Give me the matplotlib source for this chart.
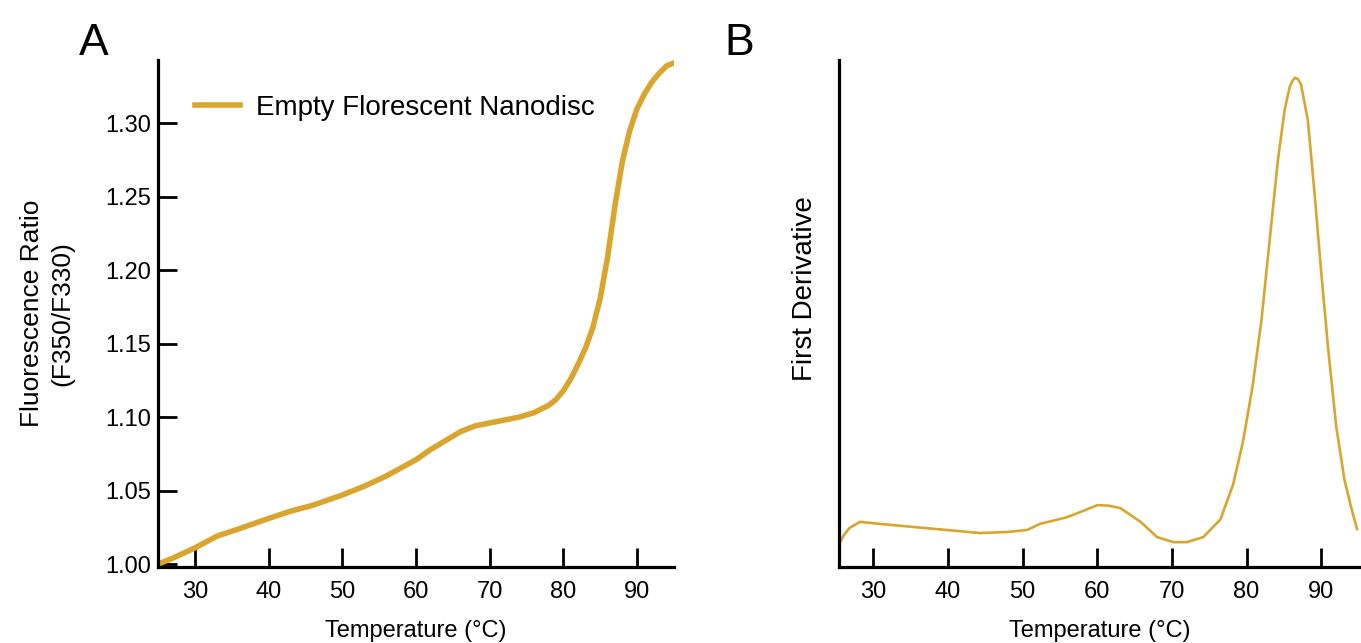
import numpy as np
import matplotlib
matplotlib.use("Agg")
import matplotlib.pyplot as plt

plt.rcParams['font.family'] = ['Liberation Sans', 'DejaVu Sans']

# panel A: fluorescence ratio vs temperature
temp_a = [25, 27, 30, 33, 36, 40, 43, 46, 50, 53, 56, 60, 62, 64, 66, 68, 70,
          72, 74, 76, 78, 79, 80, 81, 82, 83, 84, 85, 86, 87, 88, 89, 90, 91,
          92, 93, 94, 95]
ratio_a = [1.000, 1.004, 1.011, 1.019, 1.024, 1.031, 1.036, 1.040, 1.047,
           1.053, 1.060, 1.071, 1.078, 1.084, 1.090, 1.094, 1.096, 1.098,
           1.100, 1.103, 1.108, 1.112, 1.118, 1.126, 1.136, 1.147, 1.161,
           1.181, 1.209, 1.244, 1.274, 1.295, 1.310, 1.320, 1.328, 1.334,
           1.339, 1.341]

# panel B: first derivative (arbitrary units)
temp_b = [25.4, 26, 26.8, 28.2, 30.9, 35.3, 39.8, 44.3, 47.9, 50.6, 52.3,
          55.9, 58, 60, 61.5, 63.1, 65.8, 68, 70.2, 72, 74.2, 76.5, 78.2,
          79.5, 80.8, 82, 83.1, 84.2, 85.1, 85.8, 86.2, 86.5, 86.9, 87.3,
          88.2, 89.1, 90, 90.9, 92, 93.1, 94, 94.8]
deriv_b = [0.045, 0.062, 0.077, 0.089, 0.085, 0.079, 0.073, 0.067, 0.069,
           0.073, 0.085, 0.098, 0.110, 0.122, 0.121, 0.116, 0.089, 0.059,
           0.049, 0.049, 0.059, 0.094, 0.163, 0.246, 0.356, 0.488, 0.646,
           0.803, 0.902, 0.948, 0.960, 0.965, 0.962, 0.951, 0.882, 0.738,
           0.581, 0.435, 0.278, 0.173, 0.118, 0.075]

xticks = [30, 40, 50, 60, 70, 80, 90]
yticks_a = [1.00, 1.05, 1.10, 1.15, 1.20, 1.25, 1.30]
color = '#D9A52E'

fig = plt.figure(figsize=(13.61, 6.43), dpi=100)
ax1 = fig.add_axes([0.1161, 0.1182, 0.3791, 0.7885])
ax2 = fig.add_axes([0.6165, 0.1182, 0.3828, 0.7885])

ax1.plot(temp_a, ratio_a, color=color, lw=4, label='Empty Florescent Nanodisc')
ax1.set_xlim(25, 95)
ax1.set_ylim(0.998, 1.343)
ax1.set_xticks(xticks)
ax1.set_yticks(yticks_a)
ax1.set_yticklabels(['%.2f' % v for v in yticks_a])
ax1.set_xlabel('Temperature (°C)', size=17, labelpad=12)
ax1.set_ylabel('Fluorescence Ratio\n(F350/F330)', size=19, labelpad=22,
               linespacing=1.35)
ax1.legend(loc='center left', frameon=False, fontsize=20, handlelength=1.6,
           handletextpad=0.6, borderpad=0, borderaxespad=0,
           bbox_to_anchor=(0.072, 0.905))

ax2.plot(temp_b, deriv_b, color=color, lw=1.9)
ax2.set_xlim(25.4, 95.2)
ax2.set_ylim(0, 1)
ax2.set_xticks(xticks)
ax2.set_yticks([])
ax2.set_xlabel('Temperature (°C)', size=17, labelpad=12)
ax2.set_ylabel('First Derivative', size=20, labelpad=10)
ax2.yaxis.set_label_coords(-0.04, 0.55)

for ax in (ax1, ax2):
    for s in ('top', 'right'):
        ax.spines[s].set_visible(False)
    for s in ('left', 'bottom'):
        ax.spines[s].set_linewidth(2.3)
    ax.tick_params(direction='in', length=14, width=2, labelsize=17)
    ax.tick_params(axis='x', pad=10)
    ax.tick_params(axis='y', pad=5)

fig.text(0.058, 0.915, 'A', size=32)
fig.text(0.532, 0.915, 'B', size=32)

plt.savefig('out.png', dpi=100)
